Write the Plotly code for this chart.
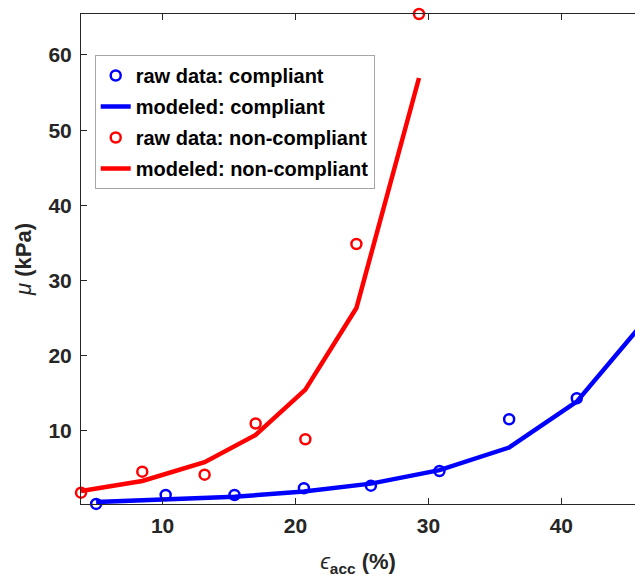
import plotly.graph_objects as go

# ---- data ----
strain_compliant = [5.0, 10.23, 15.41, 20.63, 25.67, 30.83, 36.07, 41.16]
mu_raw_compliant = [0.30, 1.49, 1.49, 2.38, 2.73, 4.68, 11.56, 14.35]

strain_model_compliant = [5.0, 10.23, 15.41, 20.63, 25.67, 30.83, 36.07, 41.16, 46.3]
mu_model_compliant = [0.55, 0.9, 1.25, 1.95, 3.0, 4.8, 7.8, 13.9, 24.7]

strain_noncompliant = [3.86, 8.47, 13.16, 17.0, 20.74, 24.58, 29.29]
mu_raw_noncompliant = [1.8, 4.59, 4.19, 11.0, 8.9, 34.87, 65.45]
mu_model_noncompliant = [2.0, 3.35, 5.84, 9.47, 15.5, 26.35, 56.94]

x_ticks = [10, 20, 30, 40]
y_ticks = [10, 20, 30, 40, 50, 60]

BLUE = "#0000FF"
RED = "#FF0000"
AX = "#262626"
FONT = "Liberation Sans, Arial, sans-serif"

fig = go.Figure()
fig.add_trace(go.Scatter(
    x=strain_compliant, y=mu_raw_compliant, mode="markers",
    name="raw data: compliant", legendgroup="a",
    marker=dict(symbol="circle-open", size=10, color=BLUE, line=dict(width=2.5, color=BLUE)),
    cliponaxis=False))
fig.add_trace(go.Scatter(
    x=strain_model_compliant, y=mu_model_compliant, mode="lines",
    name="modeled: compliant", legendgroup="b",
    line=dict(color=BLUE, width=4.5)))
fig.add_trace(go.Scatter(
    x=strain_noncompliant, y=mu_raw_noncompliant, mode="markers",
    name="raw data: non-compliant", legendgroup="c",
    marker=dict(symbol="circle-open", size=10, color=RED, line=dict(width=2.5, color=RED)),
    cliponaxis=False))
fig.add_trace(go.Scatter(
    x=strain_noncompliant, y=mu_model_noncompliant, mode="lines",
    name="modeled: non-compliant", legendgroup="d",
    line=dict(color=RED, width=4.5)))

L, R, T, B = 81, 0, 14, 73
W, H = 635, 577
ph = H - T - B
pw = W - L - R

fig.update_layout(
    width=W, height=H,
    margin=dict(l=L, r=R, t=T, b=B, pad=0, autoexpand=False),
    paper_bgcolor="white", plot_bgcolor="white",
    font=dict(family=FONT, size=20, color=AX),
    showlegend=True,
    legend=dict(
        x=(94.7 - L) / pw, y=(504 - 55) / ph, xanchor="left", yanchor="top",
        bgcolor="white", bordercolor="#a6a6a6", borderwidth=1,
        font=dict(family=FONT, size=20, color="#000000", weight="bold"),
        itemwidth=30, tracegroupgap=2,
    ),
    xaxis=dict(
        range=[3.86, 45.54], tickvals=x_ticks, ticks="inside", ticklen=6,
        tickcolor=AX, linecolor=AX, linewidth=1, showline=True, mirror="ticks",
        showgrid=False, zeroline=False, automargin=False,
        tickfont=dict(family=FONT, size=21, color=AX, weight="bold"),
        ticklabelstandoff=3,
        title=dict(text="<i>ϵ</i><sub><b>acc</b></sub> <b>(%)</b>",
                   font=dict(family=FONT, size=22, color=AX), standoff=20),
    ),
    yaxis=dict(
        range=[0.29, 65.45], tickvals=y_ticks, ticks="inside", ticklen=6,
        tickcolor=AX, linecolor=AX, linewidth=1, showline=True, mirror=False,
        showgrid=False, zeroline=False, automargin=False,
        tickfont=dict(family=FONT, size=21, color=AX, weight="bold"),
        ticklabelstandoff=4,
        title=dict(text="<i>μ</i> <b>(kPa)</b>",
                   font=dict(family=FONT, size=22, color=AX), standoff=10),
    ),
)

fig.write_html(
    "out.html",
    config={"displayModeBar": False},
    post_script="document.body.style.margin='0';document.body.style.padding='0';"
                "document.body.style.overflow='hidden';",
)
